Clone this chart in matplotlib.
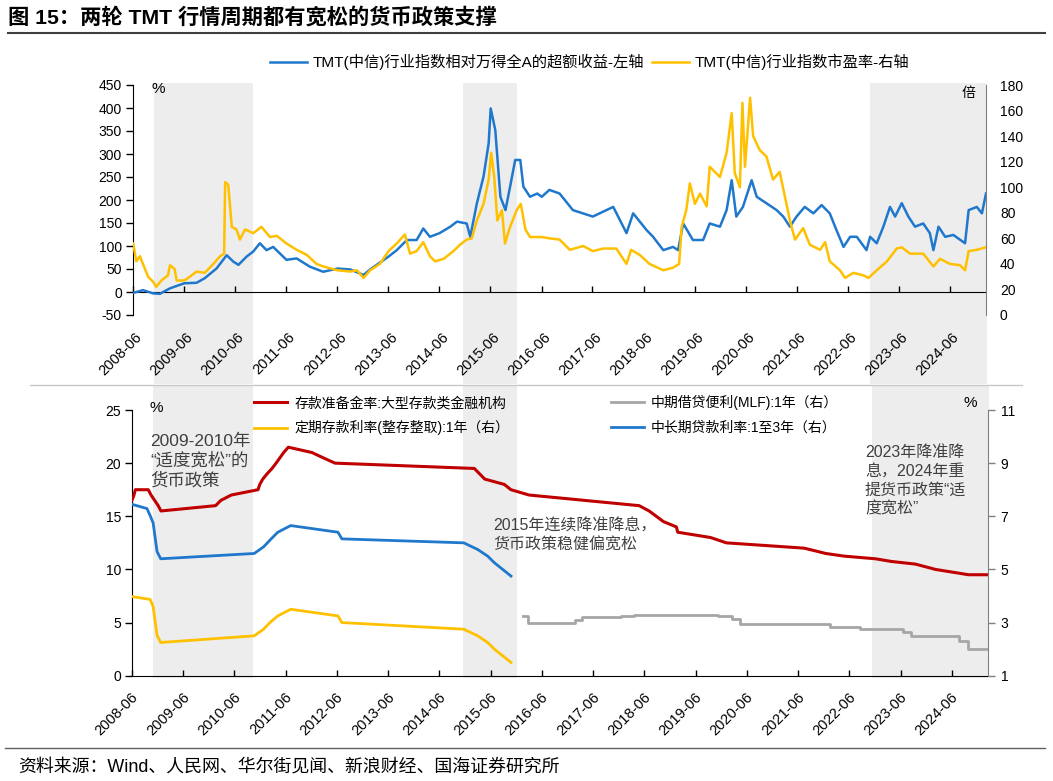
import matplotlib
matplotlib.use("Agg")
import matplotlib.pyplot as plt
import matplotlib.transforms as mtransforms
from matplotlib.lines import Line2D
import pandas as pd

plt.rcParams['font.family'] = ['Liberation Sans', 'Noto Sans CJK SC', 'DejaVu Sans']
plt.rcParams['axes.unicode_minus'] = False

# ---------------- data ----------------
tick_labels = ["2008-06", "2009-06", "2010-06", "2011-06", "2012-06", "2013-06",
               "2014-06", "2015-06", "2016-06", "2017-06", "2018-06", "2019-06",
               "2020-06", "2021-06", "2022-06", "2023-06", "2024-06"]

# TMT excess return vs Wind All A (%), left axis; time in decimal years
excess_t = [2008.42, 2008.61, 2008.81, 2008.94, 2009.14, 2009.42, 2009.66, 2009.82, 2010.05, 2010.25,
            2010.38, 2010.48, 2010.64, 2010.77, 2010.90, 2011.03, 2011.16, 2011.42, 2011.62, 2011.88,
            2012.14, 2012.42, 2012.67, 2012.93, 2013.06, 2013.42, 2013.58, 2013.78, 2013.97, 2014.10,
            2014.23, 2014.42, 2014.63, 2014.76, 2014.95, 2015.02, 2015.15, 2015.28, 2015.38, 2015.42,
            2015.51, 2015.61, 2015.71, 2015.80, 2015.90, 2016.00, 2016.06, 2016.19, 2016.33, 2016.42,
            2016.57, 2016.77, 2017.03, 2017.42, 2017.82, 2018.08, 2018.21, 2018.47, 2018.60, 2018.80,
            2018.99, 2019.09, 2019.19, 2019.38, 2019.58, 2019.71, 2019.91, 2020.04, 2020.14, 2020.23,
            2020.36, 2020.53, 2020.63, 2020.82, 2021.02, 2021.15, 2021.28, 2021.41, 2021.57, 2021.74,
            2021.90, 2022.06, 2022.19, 2022.33, 2022.46, 2022.59, 2022.78, 2022.85, 2022.98, 2023.11,
            2023.24, 2023.34, 2023.47, 2023.60, 2023.73, 2023.89, 2024.02, 2024.09, 2024.19, 2024.32,
            2024.48, 2024.71, 2024.78, 2024.94, 2025.04, 2025.12]
excess_v = [-2, 4, -3, -4, 8, 19, 20, 30, 51, 80,
            66, 59, 77, 88, 106, 91, 98, 70, 73, 55,
            44, 51, 49, 37, 49, 77, 91, 113, 113, 138,
            120, 128, 142, 153, 149, 120, 193, 251, 323, 399,
            352, 207, 178, 229, 287, 287, 229, 207, 214, 207,
            222, 214, 178, 164, 185, 128, 171, 135, 120, 91,
            98, 91, 149, 113, 113, 149, 142, 178, 243, 164,
            185, 243, 207, 193, 178, 164, 142, 164, 185, 171,
            189, 171, 135, 98, 120, 120, 91, 120, 106, 142,
            185, 164, 193, 164, 142, 149, 128, 91, 142, 120,
            124, 106, 178, 185, 171, 214]

# TMT index PE (x), right axis
pe_t = [2008.42, 2008.48, 2008.55, 2008.61, 2008.71, 2008.81, 2008.87, 2008.97, 2009.10, 2009.14,
        2009.23, 2009.27, 2009.42, 2009.53, 2009.66, 2009.82, 2009.99, 2010.12, 2010.20, 2010.22,
        2010.28, 2010.35, 2010.44, 2010.51, 2010.61, 2010.77, 2010.93, 2011.10, 2011.23, 2011.42,
        2011.62, 2011.82, 2012.01, 2012.14, 2012.42, 2012.67, 2012.80, 2012.93, 2013.06, 2013.25,
        2013.42, 2013.58, 2013.74, 2013.84, 2013.97, 2014.10, 2014.23, 2014.33, 2014.50, 2014.69,
        2014.82, 2014.95, 2015.05, 2015.15, 2015.28, 2015.38, 2015.43, 2015.49, 2015.55, 2015.64,
        2015.70, 2015.80, 2015.93, 2016.01, 2016.10, 2016.19, 2016.42, 2016.57, 2016.77, 2016.97,
        2017.23, 2017.42, 2017.62, 2017.88, 2018.08, 2018.17, 2018.34, 2018.53, 2018.80, 2018.99,
        2019.11, 2019.16, 2019.25, 2019.32, 2019.42, 2019.52, 2019.65, 2019.71, 2019.91, 2020.04,
        2020.14, 2020.20, 2020.30, 2020.35, 2020.40, 2020.50, 2020.56, 2020.69, 2020.82, 2020.95,
        2021.08, 2021.18, 2021.28, 2021.38, 2021.54, 2021.67, 2021.87, 2021.97, 2022.06, 2022.26,
        2022.36, 2022.52, 2022.72, 2022.82, 2022.98, 2023.18, 2023.37, 2023.47, 2023.63, 2023.89,
        2024.09, 2024.22, 2024.41, 2024.61, 2024.71, 2024.78, 2024.94, 2025.12]
pe_v = [56, 42, 46, 40, 30, 26, 22, 27, 31, 39,
        36, 27, 27, 30, 34, 33, 40, 46, 48, 104,
        102, 69, 67, 59, 67, 64, 69, 61, 62, 56,
        51, 47, 40, 38, 35, 34, 35, 29, 35, 40,
        50, 56, 63, 48, 50, 57, 46, 42, 44, 50,
        55, 59, 60, 74, 87, 106, 127, 108, 74, 82,
        56, 69, 82, 87, 67, 61, 61, 60, 59, 51,
        54, 50, 52, 52, 40, 51, 47, 40, 35, 37,
        40, 69, 82, 103, 87, 95, 85, 116, 108, 127,
        158, 111, 100, 166, 116, 170, 140, 129, 124, 106,
        112, 93, 74, 59, 68, 55, 51, 57, 42, 35,
        29, 33, 31, 29, 35, 42, 52, 53, 48, 48,
        38, 44, 40, 39, 35, 50, 51, 53]

# easing periods (shaded)
shade_start = ["2008-10-28", "2014-11-15", "2022-11-08"]
shade_end = ["2010-10-10", "2015-12-05", "2025-02-20"]

# reserve requirement ratio, large institutions (%), left axis
rrr_dates = ["2008-06-01", "2008-06-15", "2008-06-25", "2008-09-25", "2008-10-15", "2008-12-05",
             "2008-12-25", "2010-01-18", "2010-02-25", "2010-05-10", "2010-11-16", "2010-11-29",
             "2010-12-20", "2011-01-20", "2011-02-24", "2011-03-25", "2011-04-21", "2011-05-18",
             "2011-06-20", "2011-12-05", "2012-02-24", "2012-05-18", "2015-02-05", "2015-04-20",
             "2015-09-06", "2015-10-24", "2016-03-01", "2018-04-25", "2018-07-05", "2018-10-15",
             "2019-01-15", "2019-01-25", "2019-09-16", "2020-01-06", "2021-07-15", "2021-12-15",
             "2022-04-25", "2022-12-05", "2023-03-27", "2023-09-15", "2024-02-05", "2024-09-27",
             "2025-02-15"]
rrr_vals = [16.5, 17.0, 17.5, 17.5, 17.0, 16.0,
            15.5, 16.0, 16.5, 17.0, 17.5, 18.0,
            18.5, 19.0, 19.5, 20.0, 20.5, 21.0,
            21.5, 21.0, 20.5, 20.0, 19.5, 18.5,
            18.0, 17.5, 17.0, 16.0, 15.5, 14.5,
            14.0, 13.5, 13.0, 12.5, 12.0, 11.5,
            11.25, 11.0, 10.75, 10.5, 10.0, 9.5,
            9.5]

# 1-year time deposit rate (%), right axis
dep_dates = ["2008-06-01", "2008-10-09", "2008-10-30", "2008-11-27", "2008-12-23", "2010-10-20",
             "2010-12-26", "2011-02-09", "2011-04-06", "2011-07-07", "2012-06-08", "2012-07-06",
             "2014-11-22", "2015-03-01", "2015-05-11", "2015-06-28", "2015-08-26", "2015-10-24"]
dep_vals = [3.98, 3.87, 3.60, 2.52, 2.25, 2.50,
            2.75, 3.00, 3.25, 3.50, 3.25, 3.00,
            2.75, 2.50, 2.25, 2.00, 1.75, 1.50]

# MLF 1Y (%), right axis
mlf_dates = ["2016-01-15", "2016-02-20", "2017-01-24", "2017-03-16", "2017-12-14", "2018-03-22",
             "2019-11-05", "2020-02-17", "2020-04-15", "2022-01-17", "2022-08-15", "2023-06-15",
             "2023-08-15", "2024-07-25", "2024-09-25", "2025-02-15"]
mlf_vals = [3.25, 3.00, 3.10, 3.20, 3.25, 3.30,
            3.25, 3.15, 2.95, 2.85, 2.75, 2.65,
            2.50, 2.30, 2.00, 2.00]

# medium/long-term loan rate 1-3Y (%), right axis
loan_dates = ["2008-06-01", "2008-09-16", "2008-10-09", "2008-10-30", "2008-11-27", "2008-12-23",
              "2010-10-20", "2010-12-26", "2011-02-09", "2011-04-06", "2011-07-07", "2012-06-08",
              "2012-07-06", "2014-11-22", "2015-03-01", "2015-05-11", "2015-06-28", "2015-08-26",
              "2015-10-24"]
loan_vals = [7.45, 7.29, 7.02, 6.75, 5.67, 5.40,
             5.60, 5.85, 6.10, 6.40, 6.65, 6.40,
             6.15, 6.00, 5.75, 5.50, 5.25, 5.00,
             4.75]

# ---------------- helpers ----------------
W, H = 1053, 781
fig = plt.figure(figsize=(W / 100, H / 100), dpi=100)


def fx(px):
    return px / W


def fy(py):
    return 1 - py / H


def yr(s):
    t = pd.Timestamp(s)
    n = 366 if t.is_leap_year else 365
    return t.year + (t.dayofyear - 1) / n


BLUE = "#1F78CC"
GOLD = "#FFC000"
RED = "#C00000"
GRAY = "#A6A6A6"
SHADE = "#EDEDED"
TXT = "#404040"

tick_pos = [yr(s + "-01") for s in tick_labels]
x0, x1 = yr("2008-06-01"), 2025.12


def style_xticks(ax, pad, dx):
    ax.set_xticks(tick_pos)
    ax.set_xticklabels(tick_labels, rotation=45, ha="right", va="center",
                       rotation_mode="anchor", fontsize=10.5)
    ax.tick_params(axis="x", direction="in", length=4, width=1, pad=pad, colors="black")
    off = mtransforms.ScaledTranslation(dx / 100, 0, fig.dpi_scale_trans)
    for lab in ax.get_xticklabels():
        lab.set_transform(lab.get_transform() + off)


# ---------------- top chart ----------------
ax1 = fig.add_axes([fx(133), fy(315), (986 - 133) / W, (315 - 85) / H])
ax1.set_xlim(x0, x1)
ax1.set_ylim(-50, 450)
ax1.set_yticks(list(range(-50, 451, 50)))
for a, b in zip(shade_start, shade_end):
    ax1.axvspan(yr(a), min(yr(b), x1 + 0.04), ymin=-0.30, ymax=1.01, color=SHADE,
                lw=0, zorder=0, clip_on=False)
l_ex, = ax1.plot(excess_t, excess_v, color=BLUE, lw=1.8, zorder=3)
for s in ["top", "right"]:
    ax1.spines[s].set_visible(False)
ax1.spines["bottom"].set_position(("data", 0))
ax1.spines["left"].set_color("black")
ax1.tick_params(axis="y", direction="out", length=5, width=1, pad=3, labelsize=10)
style_xticks(ax1, 31, 7)

ax1r = ax1.twinx()
ax1r.set_ylim(0, 180)
ax1r.set_yticks(list(range(0, 181, 20)))
l_pe, = ax1r.plot(pe_t, pe_v, color=GOLD, lw=1.8, zorder=3)
for s in ["top", "left", "bottom"]:
    ax1r.spines[s].set_visible(False)
ax1r.spines["right"].set_color("#808080")
ax1r.tick_params(axis="y", length=0, pad=10, labelsize=10)

fig.text(fx(151), fy(89), "%", fontsize=11, va="center", ha="left")
fig.text(fx(968), fy(93), "倍", fontsize=10, va="center", ha="center")

fig.legend([l_ex, l_pe], ["TMT(中信)行业指数相对万得全A的超额收益-左轴", "TMT(中信)行业指数市盈率-右轴"],
           loc="center", bbox_to_anchor=(fx(590), fy(62)), ncol=2, frameon=False,
           fontsize=11, handlelength=2.4, handletextpad=0.4, columnspacing=0.5)

# ---------------- bottom chart ----------------
ax2 = fig.add_axes([fx(132), fy(675.7), (988 - 132) / W, (675.7 - 410) / H])
ax2.set_xlim(x0, x1)
ax2.set_ylim(0, 25)
ax2.set_yticks(list(range(0, 26, 5)))
for a, b in zip(shade_start, shade_end):
    ax2.axvspan(yr(a), min(yr(b), x1 + 0.04), ymin=-0.01, ymax=1.094, color=SHADE,
                lw=0, zorder=0, clip_on=False)
l_rrr, = ax2.plot([yr(d) for d in rrr_dates], rrr_vals, color=RED, lw=2.2, zorder=3)
for s in ["top", "right"]:
    ax2.spines[s].set_visible(False)
ax2.tick_params(axis="y", direction="out", length=5, width=1, pad=3, labelsize=10)
style_xticks(ax2, 14, 4)

ax2r = ax2.twinx()
ax2r.set_ylim(1, 11)
ax2r.set_yticks(list(range(1, 12, 2)))
l_dep, = ax2r.plot([yr(d) for d in dep_dates], dep_vals, color=GOLD, lw=2.0, zorder=3)
l_mlf, = ax2r.plot([yr(d) for d in mlf_dates], mlf_vals, color=GRAY, lw=2.0, zorder=3,
                   drawstyle="steps-post")
l_loan, = ax2r.plot([yr(d) for d in loan_dates], loan_vals, color=BLUE, lw=2.0, zorder=3)
for s in ["top", "left", "bottom"]:
    ax2r.spines[s].set_visible(False)
ax2r.spines["right"].set_color("#808080")
ax2r.tick_params(axis="y", direction="out", length=5, width=1, colors="#808080", pad=4,
                 labelsize=10, labelcolor="black")

fig.text(fx(150), fy(408), "%", fontsize=11, va="center", ha="left")
fig.text(fx(970), fy(403), "%", fontsize=11, va="center", ha="center")

fig.legend([l_rrr, l_dep, l_mlf, l_loan],
           ["存款准备金率:大型存款类金融机构", "定期存款利率(整存整取):1年（右）",
            "中期借贷便利(MLF):1年（右）", "中长期贷款利率:1至3年（右）"],
           loc="upper left", bbox_to_anchor=(fx(254), fy(395)), ncol=2, frameon=False,
           fontsize=10, handlelength=2.4, handletextpad=0.5, columnspacing=7.3,
           labelspacing=0.75, borderpad=0, borderaxespad=0)

fig.text(fx(150), fy(461), "2009-2010年\n“适度宽松”的\n货币政策", fontsize=12.5, color=TXT,
         va="center", ha="left", linespacing=1.25)
fig.text(fx(493), fy(536), "2015年连续降准降息，\n货币政策稳健偏宽松", fontsize=11.5, color=TXT,
         va="center", ha="left", linespacing=1.3)
fig.text(fx(865), fy(481), "2023年降准降\n息，2024年重\n提货币政策“适\n度宽松”", fontsize=11.5,
         color=TXT, va="center", ha="left", linespacing=1.3)

# ---------------- frame texts / rules ----------------
fig.text(fx(8), fy(17), "图 15：两轮 TMT 行情周期都有宽松的货币政策支撑", fontsize=15.3,
         fontweight="bold", va="center", ha="left")
fig.add_artist(Line2D([fx(8), fx(1045)], [fy(33), fy(33)], color="#404040", lw=1.5,
                      transform=fig.transFigure))
fig.add_artist(Line2D([fx(30), fx(1022)], [fy(385), fy(385)], color="#C8C8C8", lw=1,
                      transform=fig.transFigure))
fig.add_artist(Line2D([fx(5), fx(1045)], [fy(748), fy(748)], color="#606060", lw=1,
                      transform=fig.transFigure))
fig.text(fx(18), fy(767), "资料来源：Wind、人民网、华尔街见闻、新浪财经、国海证券研究所", fontsize=12.9,
         va="center", ha="left")

fig.savefig("out.png", dpi=100)
